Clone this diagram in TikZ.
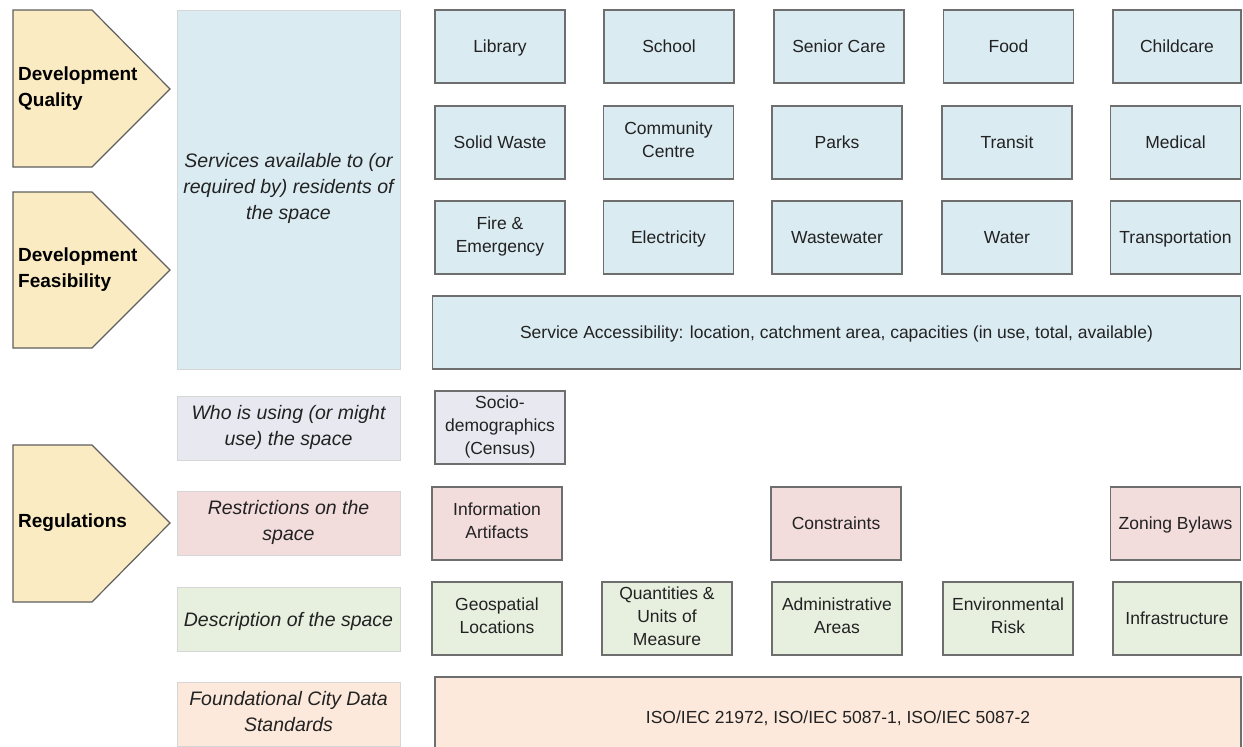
\documentclass[tikz,border=0pt]{standalone}
\usepackage{fontspec}
\setmainfont{Liberation Sans}
\definecolor{blueF}{HTML}{DAEBF2}
\definecolor{lavF}{HTML}{E8E8F0}
\definecolor{pinkF}{HTML}{F2DCDC}
\definecolor{greenF}{HTML}{E7EFDF}
\definecolor{peachF}{HTML}{FCE9DC}
\definecolor{yellowF}{HTML}{FBEBC3}
\definecolor{gridline}{HTML}{6E6E6E}
\definecolor{catline}{HTML}{D6D6D6}
\definecolor{pentline}{HTML}{5F5F5F}
\definecolor{ink}{HTML}{222222}
% line-box struts so text is centred on its cap height
\newcommand\gtop{\rule{0pt}{17.5pt}}
\newcommand\gbot{\rule[-5.5pt]{0pt}{5.5pt}}
\newcommand\ctop{\rule{0pt}{20pt}}
\newcommand\cbot{\rule[-6pt]{0pt}{6pt}}
\begin{document}
\begin{tikzpicture}[x=1pt,y=-1pt,
  gridbox/.style={draw=gridline, line width=1.3pt, align=center, inner sep=0pt,
    text=ink, font=\fontsize{17.5}{23}\selectfont, minimum width=130pt, minimum height=73pt,
    execute at begin node=\gtop, execute at end node=\gbot},
  catbox/.style={draw=catline, line width=1pt, align=center, inner sep=0pt,
    text=ink, font=\itshape\fontsize{19.5}{26}\selectfont, minimum width=223pt, minimum height=64pt,
    execute at begin node=\ctop, execute at end node=\cbot},
  pent/.style={fill=yellowF, draw=pentline, line width=1.2pt, line join=miter},
  penttext/.style={anchor=west, align=left, inner sep=0pt, text=black,
    font=\bfseries\fontsize{19}{26}\selectfont}]
\useasboundingbox (0,0) rectangle (1243,747);

% Goal arrows on the left
\path[pent] (13,10) -- (92,10) -- (170,89) -- (92,167) -- (13,167) -- cycle;
\node[penttext] (dq) at (18,89) {Development\\Quality};
\path[pent] (13,192) -- (92,192) -- (170,270) -- (92,348) -- (13,348) -- cycle;
\node[penttext] (df) at (18,270) {Development\\Feasibility};
\path[pent] (13,445) -- (92,445) -- (170,523) -- (92,602) -- (13,602) -- cycle;
\node[penttext] (reg) at (18,523) {Regulations};

% Category column
\node[catbox, fill=blueF, minimum height=359pt] (services) at (288.5,189.5)
  {Services available to (or\\required by) residents of\\the space};
\node[catbox, fill=lavF] (who) at (288.5,428) {Who is using (or might\\use) the space};
\node[catbox, fill=pinkF] (restr) at (288.5,523) {Restrictions on the\\space};
\node[catbox, fill=greenF] (descr) at (288.5,619) {Description of the space};
\node[catbox, fill=peachF] (found) at (288.5,714) {Foundational City Data\\Standards};

% Services
\node[gridbox, fill=blueF] (library) at (500,46.5) {Library};
\node[gridbox, fill=blueF] (school) at (669,46.5) {School};
\node[gridbox, fill=blueF] (senior) at (839,46.5) {Senior Care};
\node[gridbox, fill=blueF] (food) at (1008.5,46.5) {Food};
\node[gridbox, fill=blueF, minimum width=128pt] (childcare) at (1177,46.5) {Childcare};

\node[gridbox, fill=blueF] (waste) at (500,142.5) {Solid Waste};
\node[gridbox, fill=blueF] (community) at (668.5,142.5) {Community\\Centre};
\node[gridbox, fill=blueF] (parks) at (837,142.5) {Parks};
\node[gridbox, fill=blueF] (transit) at (1007,142.5) {Transit};
\node[gridbox, fill=blueF] (medical) at (1175.5,142.5) {Medical};

\node[gridbox, fill=blueF] (fire) at (500,237.5) {Fire \&\\Emergency};
\node[gridbox, fill=blueF] (electricity) at (668.5,237.5) {Electricity};
\node[gridbox, fill=blueF] (wastewater) at (837,237.5) {Wastewater};
\node[gridbox, fill=blueF] (water) at (1007,237.5) {Water};
\node[gridbox, fill=blueF] (transport) at (1175.5,237.5) {Transportation};

\node[gridbox, fill=blueF, minimum width=808pt] (access) at (836.5,332.5)
  {Service Accessibility: location, catchment area, capacities (in use, total, available)};

% Users
\node[gridbox, fill=lavF] (socio) at (500,427.5) {Socio-\\demographics\\(Census)};

% Restrictions
\node[gridbox, fill=pinkF] (artifacts) at (497,523.5) {Information\\Artifacts};
\node[gridbox, fill=pinkF] (constraints) at (836,523.5) {Constraints};
\node[gridbox, fill=pinkF] (zoning) at (1175.5,523.5) {Zoning Bylaws};

% Description
\node[gridbox, fill=greenF] (geo) at (497,618.5) {Geospatial\\Locations};
\node[gridbox, fill=greenF] (units) at (667,618.5) {Quantities \&\\Units of\\Measure};
\node[gridbox, fill=greenF] (admin) at (837,618.5) {Administrative\\Areas};
\node[gridbox, fill=greenF] (envrisk) at (1008,618.5) {Environmental\\Risk};
\node[gridbox, fill=greenF, minimum width=128pt] (infra) at (1177,618.5) {Infrastructure};

% Foundation standards
\node[gridbox, fill=peachF, minimum width=806pt, minimum height=80pt] (iso) at (838,717)
  {ISO/IEC 21972, ISO/IEC 5087-1, ISO/IEC 5087-2};
\end{tikzpicture}
\end{document}
